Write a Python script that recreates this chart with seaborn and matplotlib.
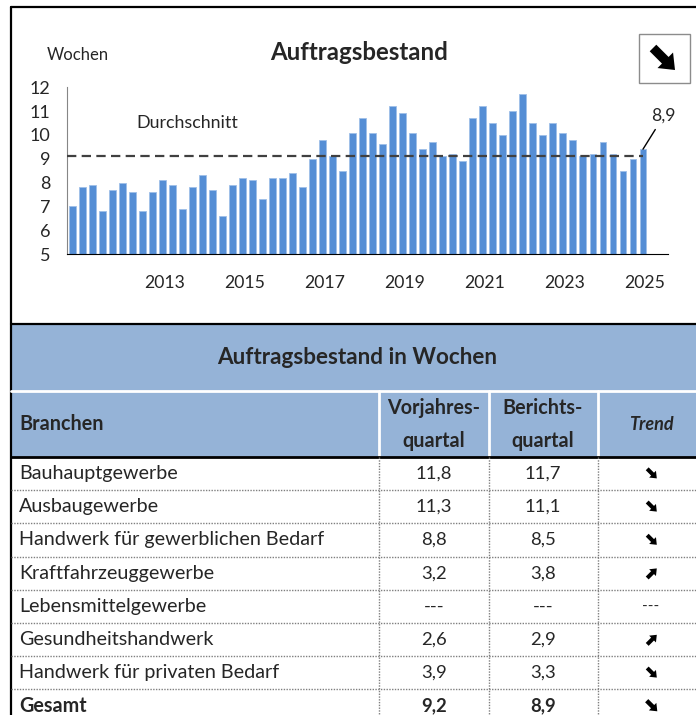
import numpy as np
import pandas as pd
import matplotlib
matplotlib.use('Agg')
import matplotlib.pyplot as plt
from matplotlib.patches import FancyArrow
import seaborn as sns

# Auftragsbestand in Wochen, Quartale 2011 Q1 bis 2025 Q2
jahre = list(range(2011, 2026))
wochen = [7.0, 7.8, 7.9, 6.8,
          7.7, 8.0, 7.6, 6.8,
          7.6, 8.1, 7.9, 6.9,
          7.8, 8.3, 7.7, 6.6,
          7.9, 8.2, 8.1, 7.3,
          8.2, 8.2, 8.4, 7.8,
          9.0, 9.8, 9.1, 8.5,
          10.1, 10.7, 10.1, 9.6,
          11.2, 10.9, 10.1, 9.4,
          9.7, 9.1, 9.2, 8.9,
          10.7, 11.2, 10.5, 10.0,
          11.0, 11.7, 10.5, 10.0,
          10.5, 10.1, 9.8, 9.1,
          9.2, 9.7, 9.2, 8.5,
          9.0, 9.4]
durchschnitt = 9.12
letzter_wert = "8,9"
jahr_labels = [2013, 2015, 2017, 2019, 2021, 2023, 2025]

branchen = ["Bauhauptgewerbe", "Ausbaugewerbe", "Handwerk für gewerblichen Bedarf",
            "Kraftfahrzeuggewerbe", "Lebensmittelgewerbe", "Gesundheitshandwerk",
            "Handwerk für privaten Bedarf", "Gesamt"]
vorjahr = ["11,8", "11,3", "8,8", "3,2", "---", "2,6", "3,9", "9,2"]
bericht = ["11,7", "11,1", "8,5", "3,8", "---", "2,9", "3,3", "8,9"]
trend = ["down", "down", "down", "up", "---", "up", "down", "down"]
trend_gesamt = "down"

sns.set_style("white")
plt.rcParams['font.family'] = ['Lato', 'DejaVu Sans']

fig = plt.figure(figsize=(6.96, 7.15), dpi=100)

# background axes in pixel coordinates for frame and table
bg = fig.add_axes([0, 0, 1, 1])
bg.set_xlim(0, 696)
bg.set_ylim(715, 0)
bg.axis('off')


def trend_pfeil(cx, cy, richtung, size):
    # heavy diagonal arrow, size = half extent in px
    sy = 1 if richtung == "down" else -1
    bg.add_patch(FancyArrow(cx - size, cy - sy * size, 2 * size, 2 * sy * size,
                            width=size * 0.85, head_width=size * 2.0, head_length=size * 1.25,
                            length_includes_head=True, color='black', lw=0))


# frame of the chart
bg.plot([11, 11], [7, 715], color='black', lw=1.6)
bg.plot([11, 696], [7, 7], color='black', lw=1.6)

# trend box top right
bg.add_patch(plt.Rectangle((639, 34), 51, 49, facecolor='white', edgecolor='#8c8c8c', lw=1))
trend_pfeil(664, 59, trend_gesamt, 11)

bg.text(47, 55, "Wochen", fontsize=12, va='center', ha='left')
bg.text(359, 52, "Auftragsbestand", fontsize=17.3, fontweight='bold', va='center', ha='center')

# bar chart
ax = fig.add_axes([67.3 / 696, (715 - 254) / 715, (668 - 67.3) / 696, (254 - 87.3) / 715])
df = pd.DataFrame({'pos': np.arange(len(wochen)), 'wochen': wochen})
sns.barplot(data=df, x='pos', y='wochen', color='#558ED5', saturation=1, width=0.68,
            edgecolor='#9fbfe8', linewidth=0.6, ax=ax)
ax.set_xlim(-0.5, len(jahre) * 4 - 0.5)
ax.set_ylim(5, 12)
ax.set_xlabel('')
ax.set_ylabel('')
ax.set_xticks([-0.5 + 4 * k for k in range(len(jahre) + 1)])
ax.set_xticklabels([])
ax.set_xticks([(j - jahre[0]) * 4 + 1.2 for j in jahr_labels], minor=True)
ax.set_xticklabels([str(j) for j in jahr_labels], minor=True, fontsize=12.7)
ax.tick_params(axis='x', which='major', length=5, width=1, color='black', direction='out')
ax.tick_params(axis='x', which='minor', length=0, pad=15)
ax.set_yticks(range(5, 13))
ax.tick_params(axis='y', length=5, width=1, color='#868686', labelsize=13, pad=7, direction='out')
ax.set_facecolor('none')
sns.despine(ax=ax, top=True, right=True)
ax.spines['left'].set_color('#868686')
ax.spines['bottom'].set_color('black')

ax.hlines(durchschnitt, -0.5, len(wochen) - 1, colors='#404040', lw=1.6,
          linestyles=(0, (4.2, 2.4)), zorder=5)
ax.text(6.4, 10.5, "Durchschnitt", fontsize=12.9, ha='left', va='center')
ax.annotate(letzter_wert, xy=(len(wochen) - 1, wochen[-1]), xytext=(15, 24),
            textcoords='offset points', fontsize=12.7, ha='center', va='center',
            arrowprops=dict(arrowstyle='-', color='black', lw=1, shrinkA=2, shrinkB=0))

# table
hdr = '#95B3D7'
bg.add_patch(plt.Rectangle((11, 324), 685, 133, facecolor=hdr, edgecolor='none'))
bg.plot([11, 696], [391, 391], color='white', lw=2)
for xc in [379, 489, 598]:
    bg.plot([xc, xc], [391, 457], color='white', lw=2)
bg.plot([11, 696], [324, 324], color='black', lw=1.6)
bg.plot([11, 696], [457, 457], color='black', lw=2)

fs = 14.2
bg.text(357, 357, "Auftragsbestand in Wochen", fontsize=16.2, fontweight='bold',
        ha='center', va='center')
bg.text(19, 424, "Branchen", fontsize=fs, fontweight='bold', ha='left', va='center')
bg.text(434, 408, "Vorjahres-", fontsize=fs, fontweight='bold', ha='center', va='center')
bg.text(434, 441, "quartal", fontsize=fs, fontweight='bold', ha='center', va='center')
bg.text(543, 408, "Berichts-", fontsize=fs, fontweight='bold', ha='center', va='center')
bg.text(543, 441, "quartal", fontsize=fs, fontweight='bold', ha='center', va='center')
bg.text(651, 424, "Trend", fontsize=13, fontweight='bold', style='italic', ha='center', va='center')

row_h = 33.2
top = 457
for i, name in enumerate(branchen):
    yc = top + row_h * (i + 0.5)
    w = 'bold' if name == "Gesamt" else 'normal'
    bg.text(19, yc, name, fontsize=fs, fontweight=w, ha='left', va='center')
    bg.text(434, yc, vorjahr[i], fontsize=13.3, fontweight=w, ha='center', va='center')
    bg.text(543, yc, bericht[i], fontsize=13.3, fontweight=w, ha='center', va='center')
    if trend[i] == '---':
        bg.text(651, yc, trend[i], fontsize=11, ha='center', va='center')
    else:
        trend_pfeil(652, yc, trend[i], 4.8 if name != "Gesamt" else 5.3)
    if i > 0:
        bg.plot([11, 696], [top + row_h * i, top + row_h * i], color='#7f7f7f', lw=1,
                linestyle=(0, (1, 1)))
for xc in [379, 489, 598]:
    bg.plot([xc, xc], [457, 715], color='#7f7f7f', lw=1, linestyle=(0, (1, 1)))

fig.savefig('out.png', dpi=100)
